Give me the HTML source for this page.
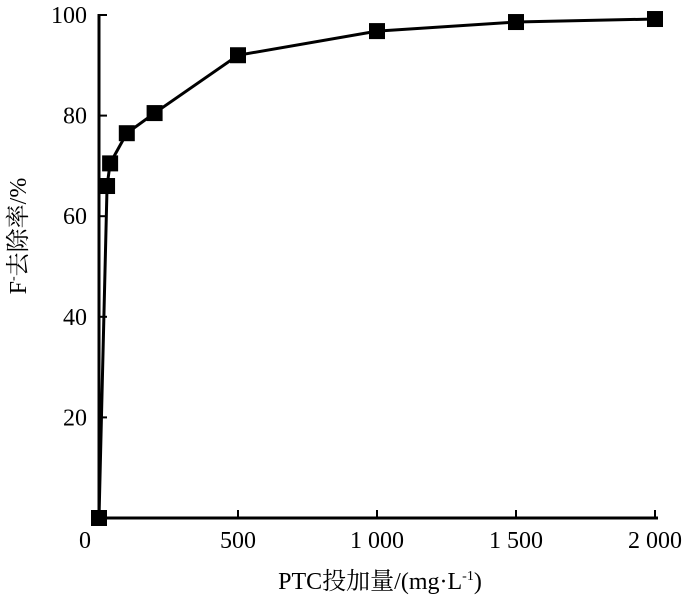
<!DOCTYPE html>
<html><head><meta charset="utf-8"><style>
body{margin:0;background:#fff}
text{font-family:"Liberation Serif","Noto Serif CJK SC",serif;fill:#000}
</style></head><body>
<svg width="700" height="601" viewBox="0 0 700 601" xmlns="http://www.w3.org/2000/svg">
<g id="axes"></g>
<g id="series"></g>
<text x="380" y="589" font-size="24" text-anchor="middle">PTC投加量/(mg·L<tspan font-size="14" dy="-9">-1</tspan><tspan dy="9">)</tspan></text>
<text transform="translate(26,236) rotate(-90)" font-size="24" text-anchor="middle">F<tspan font-size="14" dy="-9">-</tspan><tspan dy="9">去除率/%</tspan></text>
</svg>
<script>
const xValues=[0,29,40,100,200,500,1000,1500,2000];
const yValues=[0,66,70.5,76.5,80.5,92,96.8,98.6,99.2];
const xTicks=[0,500,1000,1500,2000];
const xTickLabels=["0","500","1 000","1 500","2 000"];
const yTicks=[20,40,60,80,100];
const yTickLabels=["20","40","60","80","100"];
const NS="http://www.w3.org/2000/svg";
const X=v=>99+v*0.278;
const Y=v=>518-v*5.03;
function mk(tag,attrs,parent){const e=document.createElementNS(NS,tag);for(const k in attrs)e.setAttribute(k,attrs[k]);parent.appendChild(e);return e;}
const ax=document.getElementById('axes');
let l=mk('line',{x1:X(0),y1:Y(0),x2:X(2000)+3,y2:Y(0),stroke:'#000','stroke-width':3},ax);


l=mk('line',{x1:X(0),y1:Y(0),x2:X(0),y2:Y(100)-1,stroke:'#000','stroke-width':3},ax);


xTicks.forEach((v,i)=>{
 const t=mk('line',{x1:X(v),y1:Y(0),x2:X(v),y2:Y(0)-8,stroke:'#000','stroke-width':2},ax);
 
 
 const tx=mk('text',{x:i==0?X(v)-14:X(v),y:548,'font-size':24,'text-anchor':'middle'},ax);
 tx.textContent=xTickLabels[i];
 
 
});
yTicks.forEach((v,i)=>{
 const t=mk('line',{x1:X(0),y1:Y(v),x2:X(0)+8,y2:Y(v),stroke:'#000','stroke-width':2},ax);
 
 
 const tx=mk('text',{x:X(0)-12,y:Y(v)+8,'font-size':24,'text-anchor':'end'},ax);
 tx.textContent=yTickLabels[i];
 
 
});
const sg=document.getElementById('series');
const pl=mk('polyline',{points:xValues.map((v,i)=>X(v)+','+Y(yValues[i])).join(' '),fill:'none',stroke:'#000','stroke-width':3},sg);


xValues.forEach((v,i)=>{
 const r=mk('rect',{x:X(v)-8,y:Y(yValues[i])-8,width:16,height:16,fill:'#000'},sg);
 
 
});
</script>
</body></html>
